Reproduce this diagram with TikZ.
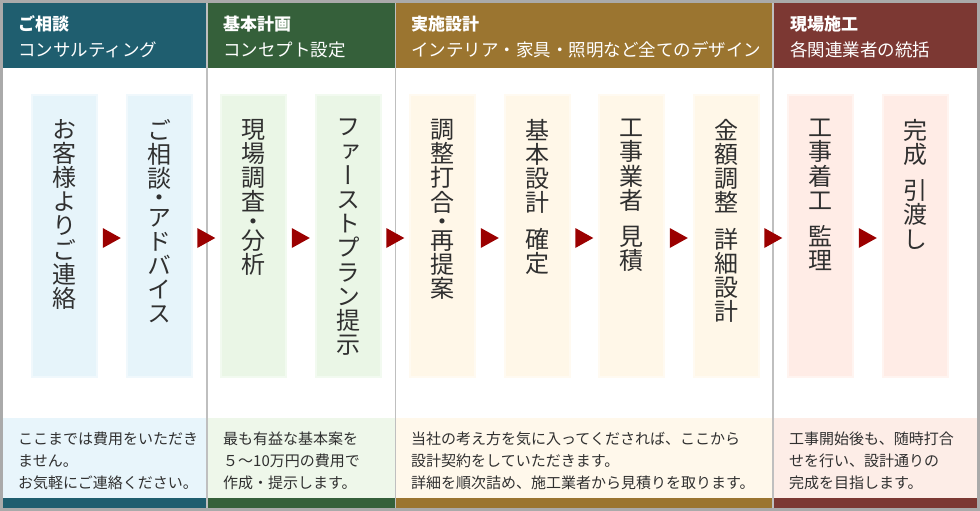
\documentclass[tikz,border=0pt]{standalone}
\usepackage{fontspec}
\usetikzlibrary{positioning,calc}
\newfontfamily\jpfont{Noto Sans CJK JP}
\newfontfamily\vtfont[RawFeature=+vert]{Noto Sans CJK JP}
\definecolor{hdblue}{RGB}{31,94,111}
\definecolor{hdgreen}{RGB}{53,96,58}
\definecolor{hdgold}{RGB}{155,117,48}
\definecolor{hdred}{RGB}{124,56,51}
\definecolor{boxblue}{RGB}{230,244,250}
\definecolor{boxgreen}{RGB}{234,246,230}
\definecolor{boxgold}{RGB}{255,247,232}
\definecolor{boxred}{RGB}{255,236,230}
\definecolor{noteblue}{RGB}{232,245,251}
\definecolor{notegreen}{RGB}{238,247,234}
\definecolor{notegold}{RGB}{255,248,235}
\definecolor{notered}{RGB}{253,237,231}
\definecolor{arrowred}{RGB}{155,0,0}
\definecolor{framegray}{RGB}{170,170,170}
\definecolor{textgray}{RGB}{48,48,48}
\tikzset{
	stepbox/.style={rectangle, inner sep=0pt, minimum width=65pt, minimum height=282pt, line width=2pt, fill=#1, draw=#1!60!white},
	vlabel/.style={inner sep=0pt, align=center, text=textgray, font=\vtfont\fontsize{24}{24.2}\selectfont},
	hdtitle/.style={inner sep=0pt, text=white, font=\jpfont\bfseries\fontsize{17}{20}\selectfont},
	hdsub/.style={inner sep=0pt, text=white, font=\jpfont\fontsize{17.5}{20}\selectfont},
	note/.style={inner sep=0pt, align=left, text=textgray, font=\jpfont\fontsize{15}{21.7}\selectfont},
	divider/.style={line width=1.5pt, color=black!25}
}
\begin{document}
\begin{tikzpicture}[x=1pt, y=-1pt]
			\useasboundingbox (0,0) rectangle (980,511);
			\fill[white] (0,0) rectangle (980,511);
			\fill[hdblue] (3,3) rectangle (207,68);
			\fill[hdgreen] (207,3) rectangle (395.5,68);
			\fill[hdgold] (395.5,3) rectangle (773,68);
			\fill[hdred] (773,3) rectangle (977,68);
			\fill[noteblue] (3,418) rectangle (207,498);
			\fill[notegreen] (207,418) rectangle (395.5,498);
			\fill[notegold] (395.5,418) rectangle (773,498);
			\fill[notered] (773,418) rectangle (977,498);
			\fill[hdblue] (3,498) rectangle (207,508);
			\fill[hdgreen] (207,498) rectangle (395.5,508);
			\fill[hdgold] (395.5,498) rectangle (773,508);
			\fill[hdred] (773,498) rectangle (977,508);
			\draw[divider] (207,3) -- (207,508);
			\draw[divider] (395.5,3) -- (395.5,508);
			\draw[divider] (773,3) -- (773,508);
			\draw[framegray, line width=3pt] (1.5,1.5) rectangle (978.5,509.5);

			\node[hdtitle, anchor=base west] (consulthd) at (18,31) {ご相談};
			\node[hdsub, anchor=base west] (consultsub) at (18,57) {コンサルティング};
			\node[hdtitle, anchor=base west] (planhd) at (223,31) {基本計画};
			\node[hdsub, anchor=base west] (plansub) at (223,57) {コンセプト設定};
			\node[hdtitle, anchor=base west] (designhd) at (411,31) {実施設計};
			\node[hdsub, anchor=base west] (designsub) at (411,57) {インテリア・家具・照明など全てのデザイン};
			\node[hdtitle, anchor=base west] (sitehd) at (790,31) {現場施工};
			\node[hdsub, anchor=base west] (sitesub) at (790,57) {各関連業者の統括};

			\node[stepbox=boxblue] (contact) at (64.5,236) {};
			\node[stepbox=boxblue] (advice) at (159,236) {};
			\node[stepbox=boxgreen] (survey) at (253.5,236) {};
			\node[stepbox=boxgreen] (firstplan) at (348,236) {};
			\node[stepbox=boxgold] (meeting) at (442.5,236) {};
			\node[stepbox=boxgold] (basic) at (537,236) {};
			\node[stepbox=boxgold] (estimate) at (631.5,236) {};
			\node[stepbox=boxgold] (detail) at (726,236) {};
			\node[stepbox=boxred] (construction) at (820.5,236) {};
			\node[stepbox=boxred] (handover) at (915,236) {};

			\node[vlabel, below=25pt of contact.north] (contacttext) {お\\客\\様\\よ\\り\\ご\\連\\絡};
			\node[vlabel, below=25pt of advice.north] (advicetext) {ご\\相\\談\\[-5pt]・\\[-5pt]ア\\ド\\バ\\イ\\ス};
			\node[vlabel, below=25pt of survey.north] (surveytext) {現\\場\\調\\査\\[-5pt]・\\[-5pt]分\\析};
			\node[vlabel, below=25pt of firstplan.north] (firstplantext) {フ\\ァ\\ー\\ス\\ト\\プ\\ラ\\ン\\提\\示};
			\node[vlabel, below=25pt of meeting.north] (meetingtext) {調\\整\\打\\合\\[-5pt]・\\[-5pt]再\\提\\案};
			\node[vlabel, below=25pt of basic.north] (basictext) {基\\本\\設\\計\\[12pt]確\\定};
			\node[vlabel, below=25pt of estimate.north] (estimatetext) {工\\事\\業\\者\\[12pt]見\\積};
			\node[vlabel, below=25pt of detail.north] (detailtext) {金\\額\\調\\整\\[12pt]詳\\細\\設\\計};
			\node[vlabel, below=25pt of construction.north] (constructiontext) {工\\事\\着\\工\\[12pt]監\\理};
			\node[vlabel, below=25pt of handover.north] (handovertext) {完\\成\\[12pt]引\\渡\\し};

			\foreach \a/\b in {contact/advice, advice/survey, survey/firstplan, firstplan/meeting, meeting/basic, basic/estimate, estimate/detail, detail/construction, construction/handover}
				\fill[arrowred] ($(\a.east)!.5!(\b.west)+(-9,-8)$) -- ++(18,10) -- ++(-18,10) -- cycle;

			\node[note, anchor=north west] (consultnote) at (18,432) {ここまでは費用をいただき\\ません。\\お気軽にご連絡ください。};
			\node[note, anchor=north west] (plannote) at (223,432) {最も有益な基本案を\\５～10万円の費用で\\作成・提示します。};
			\node[note, anchor=north west] (designnote) at (411,432) {当社の考え方を気に入ってくだされば、ここから\\設計契約をしていただきます。\\詳細を順次詰め、施工業者から見積りを取ります。};
			\node[note, anchor=north west] (sitenote) at (789,432) {工事開始後も、随時打合\\せを行い、設計通りの\\完成を目指します。};
		\end{tikzpicture}
\end{document}
